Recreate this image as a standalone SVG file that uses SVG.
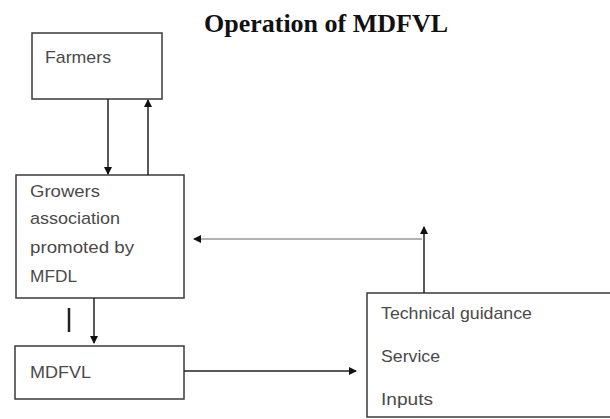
<svg xmlns="http://www.w3.org/2000/svg" width="610" height="419" viewBox="0 0 610 419">
<style>
.box{fill:#fff;stroke:#3a3a3a;stroke-width:1.5}
.lbl{font-family:"Liberation Sans",Arial,sans-serif;font-size:17px;fill:#4a4a4a}
.ttl{font-family:"Liberation Serif","Times New Roman",serif;font-size:26px;font-weight:bold;fill:#111}
.ln{stroke:#222;stroke-width:1.5;fill:none}
.lt{stroke:#666;stroke-width:1.2;fill:none}
</style>
<defs>
<marker id="ah" markerWidth="8" markerHeight="8" refX="7" refY="4" orient="auto" markerUnits="userSpaceOnUse">
<path d="M0,0 L8,4 L0,8 Z" fill="#111"/>
</marker>
</defs>
<rect width="610" height="419" fill="#fff"/>
<text class="ttl" x="326" y="32" text-anchor="middle">Operation of MDFVL</text>
<g id="farmers">
<rect class="box" x="32" y="33" width="130" height="66"/>
<text class="lbl" x="45" y="63" textLength="66" lengthAdjust="spacingAndGlyphs">Farmers</text>
</g>
<g id="growers">
<rect class="box" x="16" y="175" width="168" height="123"/>
<text class="lbl" x="30" y="197" textLength="70" lengthAdjust="spacingAndGlyphs">Growers</text>
<text class="lbl" x="30" y="224" textLength="90" lengthAdjust="spacingAndGlyphs">association</text>
<text class="lbl" x="30" y="253" textLength="104" lengthAdjust="spacingAndGlyphs">promoted by</text>
<text class="lbl" x="30" y="282" textLength="47" lengthAdjust="spacingAndGlyphs">MFDL</text>
</g>
<g id="mdfvl">
<rect class="box" x="15" y="346" width="169" height="53"/>
<text class="lbl" x="30" y="378" textLength="61" lengthAdjust="spacingAndGlyphs">MDFVL</text>
</g>
<g id="services">
<rect class="box" x="367" y="293" width="250" height="124"/>
<text class="lbl" x="381" y="319" textLength="151" lengthAdjust="spacingAndGlyphs">Technical guidance</text>
<text class="lbl" x="381" y="362" textLength="59" lengthAdjust="spacingAndGlyphs">Service</text>
<text class="lbl" x="381" y="405" textLength="52" lengthAdjust="spacingAndGlyphs">Inputs</text>
</g>
<g id="connectors">
<line class="ln" x1="108" y1="99" x2="108" y2="174" marker-end="url(#ah)"/>
<line class="ln" x1="148" y1="175" x2="148" y2="100" marker-end="url(#ah)"/>
<line x1="69" y1="308" x2="69" y2="332" stroke="#222" stroke-width="2.5"/>
<line class="ln" x1="94" y1="298" x2="94" y2="343" marker-end="url(#ah)"/>
<line class="ln" x1="184" y1="371" x2="356" y2="371" marker-end="url(#ah)"/>
<line class="ln" x1="424" y1="293" x2="424" y2="227" marker-end="url(#ah)"/>
<line class="lt" x1="422" y1="239" x2="194" y2="239" marker-end="url(#ah)"/>
</g>
</svg>
